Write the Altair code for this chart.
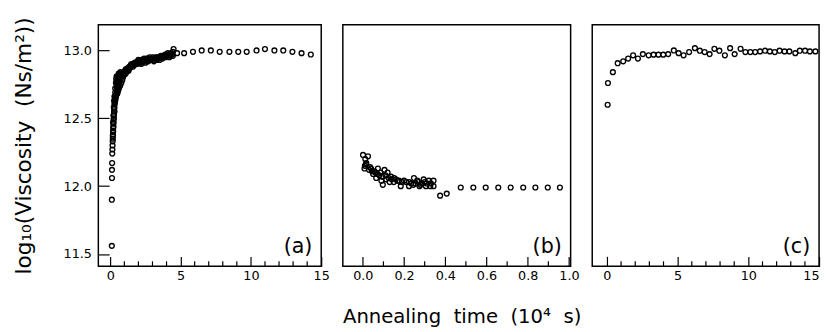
import altair as alt
import pandas as pd

FONT = "DejaVu Sans"
NB = "\u00a0"

# ---------------- data ----------------
# panel (a)
a_t = [0.11, 0.11, 0.12, 0.12, 0.13, 0.14, 0.15, 0.16,
       0.17, 0.18, 0.18, 0.19, 0.20, 0.20, 0.21, 0.22, 0.22, 0.23, 0.24, 0.25, 0.25, 0.26, 0.27,
       0.28, 0.29, 0.30, 0.31, 0.33, 0.35, 0.36, 0.38, 0.40, 0.42, 0.44, 0.46, 0.48,
       0.50, 0.52, 0.54, 0.56, 0.58, 0.60, 0.62, 0.64, 0.66, 0.68, 0.72, 0.40, 0.42, 0.45,
       0.55, 0.62, 0.70, 0.78, 0.85, 0.90, 0.95, 1.00,
       0.30, 0.35, 0.45, 0.50, 0.55, 0.60, 0.65, 0.70, 0.75, 0.80, 0.35, 0.45, 0.50, 0.60,
       0.25, 0.30, 0.20, 0.23, 0.27, 0.32,
       1.05, 1.15, 1.25, 1.35, 1.45, 1.55, 1.65, 1.75, 1.85, 1.95, 2.05, 2.15, 2.25, 2.35,
       2.45, 2.55, 2.65, 2.75, 2.85, 2.95, 3.05, 3.15, 3.25, 3.35, 3.45, 3.55, 3.65, 3.75,
       3.85, 3.95, 4.05, 4.15, 4.25, 4.35, 4.45, 4.50, 4.40, 2.20, 1.30, 1.10,
       1.00, 1.10, 1.20, 1.40, 1.50, 1.60, 1.70, 1.80, 1.90, 2.00, 2.10, 2.30, 2.40, 2.50,
       2.60, 2.70, 2.80, 2.90, 3.00, 3.10, 3.20, 3.30, 3.40, 3.50, 3.60, 3.70, 3.80, 3.90,
       4.00, 4.10, 4.20, 4.30, 4.45,
       4.75, 5.25, 5.88, 6.50, 7.15, 7.78, 8.47, 9.10, 9.70, 10.40, 11.00, 11.67, 12.30,
       12.95, 13.60, 14.26]
a_v = [11.56, 11.90, 12.06, 12.12, 12.17, 12.24, 12.27, 12.30,
       12.33, 12.35, 12.37, 12.38, 12.40, 12.41, 12.43, 12.44, 12.46, 12.47, 12.49, 12.50, 12.52, 12.53, 12.55,
       12.57, 12.58, 12.60, 12.61, 12.62, 12.63, 12.64, 12.65, 12.66, 12.67, 12.68, 12.69, 12.70,
       12.72, 12.73, 12.75, 12.76, 12.78, 12.79, 12.80, 12.81, 12.82, 12.83, 12.84, 12.76, 12.79, 12.81,
       12.70, 12.72, 12.74, 12.76, 12.78, 12.80, 12.82, 12.82,
       12.66, 12.69, 12.73, 12.78, 12.81, 12.83, 12.78, 12.80, 12.83, 12.81, 12.72, 12.77, 12.68, 12.74,
       12.58, 12.55, 12.47, 12.52, 12.63, 12.66,
       12.85, 12.86, 12.87, 12.88, 12.89, 12.89, 12.90, 12.91, 12.91, 12.92, 12.92, 12.91, 12.93, 12.93,
       12.92, 12.93, 12.94, 12.93, 12.94, 12.94, 12.93, 12.94, 12.94, 12.95, 12.94, 12.95, 12.95, 12.96,
       12.96, 12.95, 12.97, 12.97, 12.96, 12.98, 12.99, 13.01, 12.97, 12.90, 12.85, 12.83,
       12.84, 12.86, 12.85, 12.87, 12.90, 12.88, 12.89, 12.90, 12.90, 12.93, 12.91, 12.92, 12.94, 12.91,
       12.94, 12.92, 12.95, 12.93, 12.95, 12.92, 12.95, 12.93, 12.95, 12.93, 12.96, 12.94, 12.95, 12.97,
       12.96, 12.98, 12.95, 12.97, 12.96,
       12.98, 12.98, 12.99, 13.00, 13.00, 12.99, 12.99, 12.99, 12.99, 13.00, 13.01, 13.00, 13.00,
       12.99, 12.98, 12.97]

# panel (b)
b_t = [0.001, 0.025, 0.012, 0.017, 0.010, 0.008, 0.015,
       0.040, 0.057, 0.073, 0.105, 0.120, 0.050, 0.065, 0.090, 0.097, 0.113, 0.137, 0.152, 0.168,
       0.184, 0.200, 0.224, 0.248, 0.264, 0.280, 0.295, 0.320, 0.343, 0.343, 0.327, 0.306, 0.224,
       0.150, 0.045, 0.060, 0.080, 0.085, 0.095, 0.110, 0.125, 0.140, 0.160, 0.175, 0.190, 0.210,
       0.235, 0.255, 0.270, 0.285, 0.300, 0.310, 0.330, 0.070, 0.030, 0.035, 0.130, 0.245, 0.275,
       0.375, 0.407,
       0.475, 0.536, 0.596, 0.657, 0.717, 0.778, 0.837, 0.897, 0.956]
b_v = [12.23, 12.22, 12.20, 12.17, 12.15, 12.13, 12.16,
       12.13, 12.11, 12.13, 12.12, 12.10, 12.09, 12.06, 12.04, 12.01, 12.05, 12.07, 12.06, 12.04,
       12.00, 12.04, 12.03, 12.06, 12.04, 12.01, 12.05, 12.04, 12.04, 12.00, 12.00, 12.00, 12.00,
       12.03, 12.11, 12.10, 12.08, 12.10, 12.07, 12.08, 12.06, 12.05, 12.05, 12.04, 12.03, 12.03,
       12.02, 12.02, 12.03, 12.02, 12.03, 12.02, 12.02, 12.09, 12.12, 12.14, 12.03, 12.01, 12.00,
       11.93, 11.945,
       11.99, 11.99, 11.99, 11.99, 11.99, 11.99, 11.99, 11.99, 11.99]

# panel (c)
c_t = [0.05, 0.07, 0.42, 0.76, 1.15, 1.50, 1.85, 2.19, 2.54, 2.95, 3.30, 3.64, 3.98, 4.33,
       4.73, 5.07, 5.42, 5.81, 6.22, 6.57, 6.91, 7.26, 7.60, 7.95, 8.34, 8.71, 9.03, 9.45,
       9.79, 10.14, 10.48, 10.83, 11.18, 11.52, 11.87, 12.21, 12.56, 12.90, 13.32, 13.64,
       14.01, 14.35, 14.74]
c_v = [12.60, 12.76, 12.84, 12.906, 12.92, 12.94, 12.964, 12.94, 12.973, 12.964, 12.969,
       12.969, 12.969, 12.973, 13.00, 12.98, 12.964, 12.988, 13.017, 12.998, 12.988, 12.973,
       13.012, 12.998, 12.964, 13.017, 12.973, 13.012, 12.988, 12.988, 12.988, 12.993, 12.998,
       12.993, 12.988, 12.998, 12.993, 12.993, 12.98, 12.998, 12.998, 12.993, 12.993]

a_major = [0, 5, 10, 15]
a_minor = [1, 2, 3, 4, 6, 7, 8, 9, 11, 12, 13, 14]
b_major = [0.0, 0.2, 0.4, 0.6, 0.8, 1.0]
b_minor = [0.1, 0.3, 0.5, 0.7, 0.9]
y_ticks = [11.5, 12.0, 12.5, 13.0]
panel_labels = ["(a)", "(b)", "(c)"]

Y_TITLE = "log₁₀(Viscosity" + NB + NB + "(Ns/m²))"
X_TITLE = "Annealing" + NB + NB + "time" + NB + NB + "(10⁴" + NB + NB + "s)"

Y_DOMAIN = [11.41, 13.19]
H = 246


def panel(t, v, xdom, major, minor, fmt, width, label, first=False, xtitle=None,
          flush=False, title_x=None):
    df = pd.DataFrame({"t": t, "v": v})
    xscale = alt.Scale(domain=xdom, nice=False, zero=False)
    yscale = alt.Scale(domain=Y_DOMAIN, nice=False, zero=False)
    axis_kw = dict(values=major, format=fmt, tickSize=10, offset=-10, domain=False,
                   grid=False, labelPadding=4, titlePadding=24, labelFlush=flush)
    if title_x is not None:
        axis_kw["titleX"] = title_x
    xaxis = alt.Axis(**axis_kw)
    if first:
        yaxis = alt.Axis(values=y_ticks, format=".1f", tickSize=11, offset=-11, domain=False,
                         grid=False, labelPadding=7, titlePadding=28, titleFontSize=22,
                         title=Y_TITLE)
        yenc = alt.Y("v:Q", scale=yscale, axis=yaxis)
    else:
        yenc = alt.Y("v:Q", scale=yscale, axis=None)

    def xenc(field):
        if xtitle:
            return alt.X(field, scale=xscale, axis=xaxis, title=xtitle)
        return alt.X(field, scale=xscale, axis=xaxis, title=None)

    pts = alt.Chart(df).mark_point(shape="circle", filled=False, size=24, strokeWidth=1.4,
                                   color="black", opacity=1).encode(x=xenc("t:Q"), y=yenc)
    minor_ticks = alt.Chart(pd.DataFrame({"t": minor})).mark_rule(
        color="black", strokeWidth=1.2).encode(
        x=xenc("t:Q"),
        y=alt.value(H), y2=alt.value(H - 5))
    lab = alt.Chart(pd.DataFrame({"lab": [label]})).mark_text(
        align="right", baseline="middle", fontSize=21, font=FONT, color="black").encode(
        text="lab:N", x=alt.value(width - 9), y=alt.value(H - 19))
    return alt.layer(pts, minor_ticks, lab).properties(width=width, height=H)


pa = panel(a_t, a_v, [-0.85, 15.0], a_major, a_minor, "d", 227, panel_labels[0], first=True)
pb = panel(b_t, b_v, [-0.097, 1.008], b_major, b_minor, ".1f", 232, panel_labels[1],
           xtitle=X_TITLE, title_x=121)
pc = panel(c_t, c_v, [-1.04, 15.0], a_major, a_minor, "d", 231, panel_labels[2], flush=True)

chart = alt.hconcat(pa, pb, pc, spacing=22, bounds="flush").properties(
    padding={"top": 5, "left": 4, "right": 0, "bottom": 0}
).configure_view(stroke="black", strokeWidth=1.5).configure_axis(
    labelFont=FONT, titleFont=FONT, labelFontSize=13, titleFontSize=20,
    titleFontWeight="normal", labelColor="black", titleColor="black",
    tickColor="black", tickWidth=1.2
)

chart.save("out.html", embed_options={"renderer": "svg", "actions": False})
